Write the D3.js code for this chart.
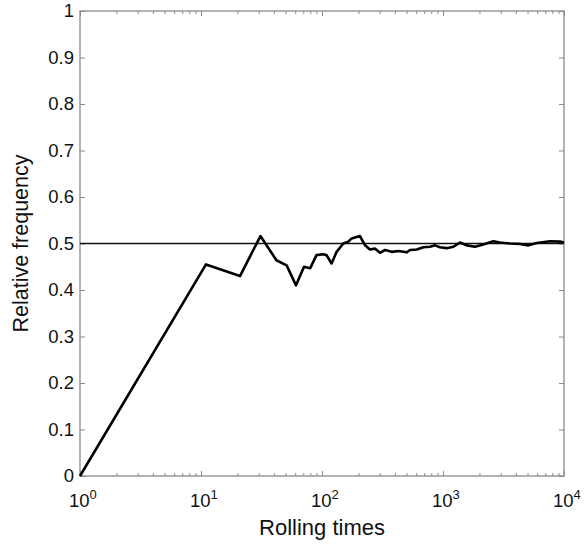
<!DOCTYPE html>
<html>
<head>
<meta charset="utf-8">
<script src="https://cdn.jsdelivr.net/npm/d3@7"></script>
<style>
  html, body { margin: 0; padding: 0; background: #fff; }
  svg { display: block; }
  text { font-family: "Liberation Sans", Arial, Helvetica, sans-serif; fill: #111; }
</style>
</head>
<body>
<svg id="chart" width="586" height="548"></svg>
<script>
// Number of rolls (log scale) and the running relative frequency of the outcome
const rolls = [1, 11, 21, 31, 42, 51, 61, 71, 80, 90, 102, 109, 120, 132, 150, 165, 176, 206,
  227, 249, 274, 301, 332, 377, 428, 501, 534, 606, 688, 781, 859, 944, 1074, 1218, 1381,
  1570, 1838, 2153, 2605, 2958, 3580, 4327, 5070, 5946, 7655, 9268, 10000];
const frequency = [0, 0.455, 0.430, 0.516, 0.464, 0.453, 0.410, 0.450, 0.447, 0.475, 0.477,
  0.475, 0.457, 0.482, 0.500, 0.504, 0.511, 0.516, 0.496, 0.487, 0.489, 0.480, 0.486, 0.482,
  0.484, 0.481, 0.486, 0.487, 0.492, 0.493, 0.496, 0.492, 0.490, 0.493, 0.502, 0.496, 0.493,
  0.498, 0.505, 0.502, 0.500, 0.499, 0.496, 0.501, 0.505, 0.504, 0.502];
const expected = 0.5;
const xDecades = [0, 1, 2, 3, 4];
const yTicks = [0, 0.1, 0.2, 0.3, 0.4, 0.5, 0.6, 0.7, 0.8, 0.9, 1];
const xTitle = "Rolling times";
const yTitle = "Relative frequency";

const margin = { left: 80, right: 22, top: 11, bottom: 72 };
const W = 586, H = 548;
const svg = d3.select("#chart");

const x = d3.scaleLog().domain([1, 10000]).range([margin.left, W - margin.right]);
const y = d3.scaleLinear().domain([0, 1]).range([H - margin.bottom, margin.top]);

const axisColor = "#8a8a8a";

// minor tick values 2..9 per decade
const minor = [];
xDecades.slice(0, -1).forEach(d => {
  for (let k = 2; k <= 9; k++) minor.push(k * Math.pow(10, d));
});
const major = xDecades.map(d => Math.pow(10, d));

const fmt = () => "";
function styleAxis(g) {
  g.select(".domain").remove();
  g.selectAll(".tick line").attr("stroke", axisColor).attr("stroke-width", 1);
}

// bottom and top axes: major and minor ticks pointing inward
svg.append("g").attr("transform", `translate(0,${y(0)})`)
  .call(d3.axisTop(x).tickValues(major).tickSize(5).tickFormat(fmt)).call(styleAxis);
svg.append("g").attr("transform", `translate(0,${y(0)})`)
  .call(d3.axisTop(x).tickValues(minor).tickSize(3).tickFormat(fmt)).call(styleAxis);
svg.append("g").attr("transform", `translate(0,${y(1)})`)
  .call(d3.axisBottom(x).tickValues(major).tickSize(5).tickFormat(fmt)).call(styleAxis);
svg.append("g").attr("transform", `translate(0,${y(1)})`)
  .call(d3.axisBottom(x).tickValues(minor).tickSize(3).tickFormat(fmt)).call(styleAxis);

// left and right axes
svg.append("g").attr("transform", `translate(${x(1)},0)`)
  .call(d3.axisRight(y).tickValues(yTicks).tickSize(5).tickFormat(fmt)).call(styleAxis);
svg.append("g").attr("transform", `translate(${x(10000)},0)`)
  .call(d3.axisLeft(y).tickValues(yTicks).tickSize(5).tickFormat(fmt)).call(styleAxis);

// frame
svg.append("rect")
  .attr("x", x(1)).attr("y", y(1))
  .attr("width", x(10000) - x(1)).attr("height", y(0) - y(1))
  .attr("fill", "none").attr("stroke", axisColor).attr("stroke-width", 1.3);

// y tick labels
svg.append("g").selectAll("text").data(yTicks).join("text")
  .attr("x", x(1) - 6).attr("y", d => y(d)).attr("dy", "0.35em")
  .attr("text-anchor", "end").attr("font-size", 18.5)
  .text(d => d === 0 || d === 1 ? String(d) : d3.format(".1f")(d));

// x tick labels: 10 with superscript exponent
const xl = svg.append("g").selectAll("text").data(xDecades).join("text")
  .attr("x", d => x(Math.pow(10, d)) - 11).attr("y", y(0) + 31)
  .attr("font-size", 18.5);
xl.append("tspan").text("10");
xl.append("tspan").attr("dy", -8).attr("font-size", 13).text(d => d);

// axis titles
svg.append("text").attr("x", (x(1) + x(10000)) / 2).attr("y", 535)
  .attr("text-anchor", "middle").attr("font-size", 22).text(xTitle);
svg.append("text")
  .attr("transform", `translate(28,${y(0.5)}) rotate(-90)`)
  .attr("text-anchor", "middle").attr("font-size", 21.5).text(yTitle);

// reference line at the expected probability
svg.append("line")
  .attr("x1", x(1)).attr("x2", x(10000))
  .attr("y1", y(expected)).attr("y2", y(expected))
  .attr("stroke", "#111").attr("stroke-width", 1.5);

// running relative frequency
const data = rolls.map((n, i) => ({ n, v: frequency[i] }));
svg.append("path").datum(data)
  .attr("fill", "none").attr("stroke", "#000").attr("stroke-width", 2.6)
  .attr("stroke-linejoin", "round")
  .attr("d", d3.line().x(d => x(d.n)).y(d => y(d.v)));
</script>
</body>
</html>
